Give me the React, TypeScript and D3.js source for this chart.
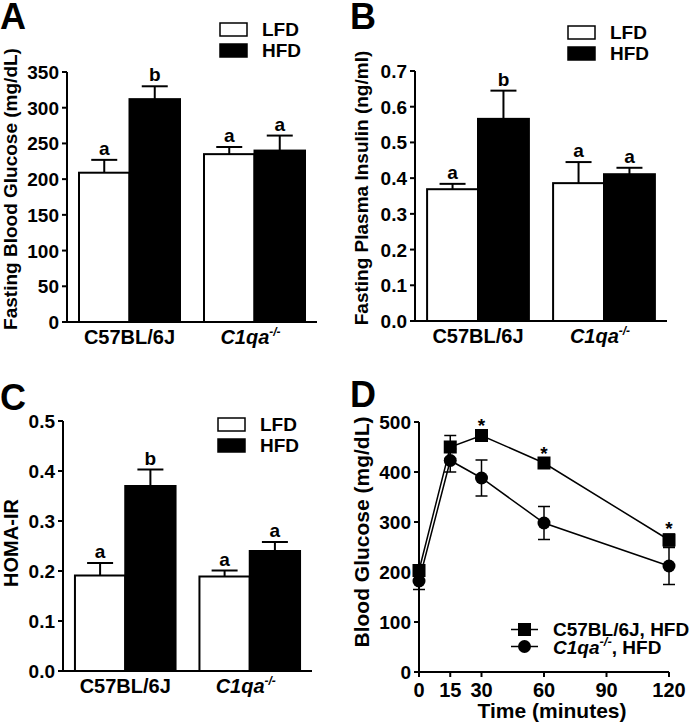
import React from "react";
import * as d3 from "d3";

// ---------- data ----------
const groups = ["C57BL/6J", "C1qa"];
const diets = ["LFD", "HFD"];

const glucoseLFD = [209, 235];
const glucoseLFDErr = [18, 10];
const glucoseHFD = [312, 240];
const glucoseHFDErr = [18, 21];
const glucoseLettersLFD = ["a", "a"];
const glucoseLettersHFD = ["b", "a"];
const glucoseTicks = [0, 50, 100, 150, 200, 250, 300, 350];

const insulinLFD = [0.369, 0.386];
const insulinLFDErr = [0.015, 0.059];
const insulinHFD = [0.566, 0.411];
const insulinHFDErr = [0.079, 0.018];
const insulinLettersLFD = ["a", "a"];
const insulinLettersHFD = ["b", "a"];
const insulinTicks = [0, 0.1, 0.2, 0.3, 0.4, 0.5, 0.6, 0.7];

const homaLFD = [0.191, 0.189];
const homaLFDErr = [0.025, 0.012];
const homaHFD = [0.37, 0.24];
const homaHFDErr = [0.033, 0.018];
const homaLettersLFD = ["a", "a"];
const homaLettersHFD = ["b", "a"];
const homaTicks = [0, 0.1, 0.2, 0.3, 0.4, 0.5];

const gttTime = [0, 15, 30, 60, 120];
const gttC57 = [203, 450, 473, 418, 264];
const gttC57Err = [8, 23, 10, 8, 12];
const gttC1qa = [182, 423, 388, 298, 212];
const gttC1qaErr = [17, 23, 36, 33, 37];
const gttStars = [false, false, true, true, true];
const gttXTicks = [0, 15, 30, 60, 90, 120];
const gttYTicks = [0, 100, 200, 300, 400, 500];

const FONT = "'Liberation Sans', Arial, Helvetica, sans-serif";
const FS = 19;

function GroupLabel({ name, x, y }: { name: string; x: number; y: number }) {
  if (name === "C1qa") {
    return (
      <text x={x - 4} y={y} textAnchor="middle" fontSize={20} fontWeight="bold">
        <tspan fontStyle="italic">C1qa</tspan>
        <tspan fontStyle="italic" fontSize={12} dy={-8}>-/-</tspan>
      </text>
    );
  }
  return (
    <text x={x} y={y} textAnchor="middle" fontSize={20} fontWeight="bold">
      {name}
    </text>
  );
}

type BarProps = {
  x0: number;
  top: number;
  w: number;
  h: number;
  max: number;
  ticks: number[];
  fmt: (v: number) => string;
  lfd: number[];
  lfdErr: number[];
  hfd: number[];
  hfdErr: number[];
  lettersLFD: string[];
  lettersHFD: string[];
  title: string;
  titleX: number;
  titleY: number;
  titleSize: number;
  panel: string;
  panelX: number;
  panelY: number;
  legX: number;
  legY: number;
};

function BarPanel(p: BarProps) {
  const y = d3.scaleLinear().domain([0, p.max]).range([p.top + p.h, p.top]);
  const xb = d3
    .scaleBand<string>()
    .domain(groups)
    .range([p.x0, p.x0 + p.w])
    .paddingInner(0.192)
    .paddingOuter(0.096);
  const xs = d3.scaleBand<string>().domain(diets).range([0, xb.bandwidth()]);
  const series = [
    { diet: "LFD", vals: p.lfd, errs: p.lfdErr, letters: p.lettersLFD, fill: "#fff" },
    { diet: "HFD", vals: p.hfd, errs: p.hfdErr, letters: p.lettersHFD, fill: "#000" },
  ];
  const base = p.top + p.h;
  return (
    <g>
      <text x={p.panelX} y={p.panelY} fontSize={36} fontWeight="bold">
        {p.panel}
      </text>
      {series.map((s) =>
        groups.map((g, i) => {
          const bx = (xb(g) as number) + (xs(s.diet) as number);
          const bw = xs.bandwidth();
          const cx = bx + bw / 2;
          const yt = y(s.vals[i]);
          const ye = y(s.vals[i] + s.errs[i]);
          return (
            <g key={s.diet + g}>
              <line x1={cx} x2={cx} y1={yt} y2={ye} stroke="#000" strokeWidth={2} />
              <line x1={cx - 13} x2={cx + 13} y1={ye} y2={ye} stroke="#000" strokeWidth={2} />
              <rect x={bx} y={yt} width={bw} height={base - yt} fill={s.fill} stroke="#000" strokeWidth={2} />
              <text x={cx} y={ye - 5} textAnchor="middle" fontSize={FS} fontWeight="bold">
                {s.letters[i]}
              </text>
            </g>
          );
        })
      )}
      {/* axes */}
      <line x1={p.x0} x2={p.x0} y1={p.top} y2={base} stroke="#000" strokeWidth={2} />
      <line x1={p.x0} x2={p.x0 + p.w} y1={base} y2={base} stroke="#000" strokeWidth={2} />
      {p.ticks.map((t) => (
        <g key={t}>
          <line x1={p.x0 - 5} x2={p.x0} y1={y(t)} y2={y(t)} stroke="#000" strokeWidth={2} />
          <text x={p.x0 - 8} y={y(t) + 7} textAnchor="end" fontSize={FS} fontWeight="bold">
            {p.fmt(t)}
          </text>
        </g>
      ))}
      {groups.map((g) => (
        <GroupLabel key={g} name={g} x={(xb(g) as number) + xb.bandwidth() / 2} y={base + 22} />
      ))}
      <text
        transform={`translate(${p.titleX},${p.titleY}) rotate(-90)`}
        textAnchor="middle"
        fontSize={p.titleSize}
        fontWeight="bold"
      >
        {p.title}
      </text>
      {/* legend */}
      {diets.map((d, i) => (
        <g key={d}>
          <rect x={p.legX} y={p.legY + i * 21} width={27} height={13} fill={i === 0 ? "#fff" : "#000"} stroke="#000" strokeWidth={1.5} />
          <text x={p.legX + 42} y={p.legY + i * 21 + 13} fontSize={FS} fontWeight="bold">
            {d}
          </text>
        </g>
      ))}
    </g>
  );
}

function LinePanel() {
  const x0 = 419;
  const top = 422;
  const w = 250;
  const h = 250;
  const base = top + h;
  const x = d3.scaleLinear().domain([0, 120]).range([x0, x0 + w]);
  const y = d3.scaleLinear().domain([0, 500]).range([base, top]);
  const line = d3
    .line<number>()
    .x((_, i) => x(gttTime[i]))
    .y((v) => y(v));
  const series = [
    { vals: gttC57, errs: gttC57Err, shape: "square" },
    { vals: gttC1qa, errs: gttC1qaErr, shape: "circle" },
  ];
  return (
    <g>
      <text x={350} y={407} fontSize={36} fontWeight="bold">
        D
      </text>
      {series.map((s, si) => (
        <g key={si}>
          <path d={line(s.vals) || ""} fill="none" stroke="#000" strokeWidth={1.5} />
          {s.vals.map((v, i) => {
            const cx = x(gttTime[i]);
            const cy = y(v);
            const e1 = y(v + s.errs[i]);
            const e2 = y(v - s.errs[i]);
            return (
              <g key={i}>
                <line x1={cx} x2={cx} y1={e1} y2={e2} stroke="#000" strokeWidth={1.5} />
                <line x1={cx - 6} x2={cx + 6} y1={e1} y2={e1} stroke="#000" strokeWidth={1.5} />
                <line x1={cx - 6} x2={cx + 6} y1={e2} y2={e2} stroke="#000" strokeWidth={1.5} />
                {s.shape === "square" ? (
                  <rect x={cx - 6.5} y={cy - 6.5} width={13} height={13} fill="#000" />
                ) : (
                  <circle cx={cx} cy={cy} r={6.5} fill="#000" />
                )}
              </g>
            );
          })}
        </g>
      ))}
      {gttC57.map((v, i) =>
        gttStars[i] ? (
          <text key={i} x={x(gttTime[i])} y={y(v + gttC57Err[i]) + 1} textAnchor="middle" fontSize={FS} fontWeight="bold">
            *
          </text>
        ) : null
      )}
      {/* axes */}
      <line x1={x0} x2={x0} y1={top} y2={base} stroke="#000" strokeWidth={2} />
      <line x1={x0} x2={x0 + w} y1={base} y2={base} stroke="#000" strokeWidth={2} />
      {gttYTicks.map((t) => (
        <g key={t}>
          <line x1={x0 - 5} x2={x0} y1={y(t)} y2={y(t)} stroke="#000" strokeWidth={2} />
          <text x={x0 - 8} y={y(t) + 7} textAnchor="end" fontSize={FS} fontWeight="bold">
            {t}
          </text>
        </g>
      ))}
      {gttXTicks.map((t) => (
        <g key={t}>
          <line x1={x(t)} x2={x(t)} y1={base} y2={base + 5} stroke="#000" strokeWidth={2} />
          <text x={x(t)} y={base + 25} textAnchor="middle" fontSize={20} fontWeight="bold">
            {t}
          </text>
        </g>
      ))}
      <text x={x0 + w / 2 + 8} y={718} textAnchor="middle" fontSize={21} fontWeight="bold">
        Time (minutes)
      </text>
      <text transform={`translate(369,532) rotate(-90)`} textAnchor="middle" fontSize={21} fontWeight="bold">
        Blood Glucose (mg/dL)
      </text>
      {/* legend */}
      <g>
        <line x1={511} x2={538} y1={629.5} y2={629.5} stroke="#000" strokeWidth={1.5} />
        <rect x={524.5 - 6.5} y={629.5 - 6.5} width={13} height={13} fill="#000" />
        <text x={553} y={636} fontSize={FS} fontWeight="bold">
          C57BL/6J, HFD
        </text>
        <line x1={511} x2={538} y1={646.5} y2={646.5} stroke="#000" strokeWidth={1.5} />
        <circle cx={524.5} cy={646.5} r={6.5} fill="#000" />
        <text x={553} y={654} fontSize={FS} fontWeight="bold">
          <tspan fontStyle="italic">C1qa</tspan>
          <tspan fontStyle="italic" fontSize={13} dy={-8}>-/-</tspan>
          <tspan dy={8}>, HFD</tspan>
        </text>
      </g>
    </g>
  );
}

export default function App() {
  const f1 = d3.format(".1f");
  const f0 = d3.format("d");
  return (
    <svg
      width={693}
      height={725}
      style={{ position: "absolute", left: 0, top: 0, background: "#fff" }}
      fontFamily={FONT}
    >
      <rect width={693} height={725} fill="#fff" />
      <BarPanel
        x0={67}
        top={72}
        w={250}
        h={250}
        max={350}
        ticks={glucoseTicks}
        fmt={f0}
        lfd={glucoseLFD}
        lfdErr={glucoseLFDErr}
        hfd={glucoseHFD}
        hfdErr={glucoseHFDErr}
        lettersLFD={glucoseLettersLFD}
        lettersHFD={glucoseLettersHFD}
        title="Fasting Blood Glucose (mg/dL)"
        titleX={17}
        titleY={189}
        titleSize={19}
        panel="A"
        panelX={0}
        panelY={29}
        legX={220}
        legY={23}
      />
      <BarPanel
        x0={415}
        top={71}
        w={252}
        h={250}
        max={0.7}
        ticks={insulinTicks}
        fmt={f1}
        lfd={insulinLFD}
        lfdErr={insulinLFDErr}
        hfd={insulinHFD}
        hfdErr={insulinHFDErr}
        lettersLFD={insulinLettersLFD}
        lettersHFD={insulinLettersHFD}
        title="Fasting Plasma Insulin (ng/ml)"
        titleX={368}
        titleY={188}
        titleSize={19}
        panel="B"
        panelX={350}
        panelY={29}
        legX={568}
        legY={26}
      />
      <BarPanel
        x0={63}
        top={421}
        w={249}
        h={250}
        max={0.5}
        ticks={homaTicks}
        fmt={f1}
        lfd={homaLFD}
        lfdErr={homaLFDErr}
        hfd={homaHFD}
        hfdErr={homaHFDErr}
        lettersLFD={homaLettersLFD}
        lettersHFD={homaLettersHFD}
        title="HOMA-IR"
        titleX={18}
        titleY={543}
        titleSize={20}
        panel="C"
        panelX={0}
        panelY={410}
        legX={218}
        legY={418}
      />
      <LinePanel />
    </svg>
  );
}
